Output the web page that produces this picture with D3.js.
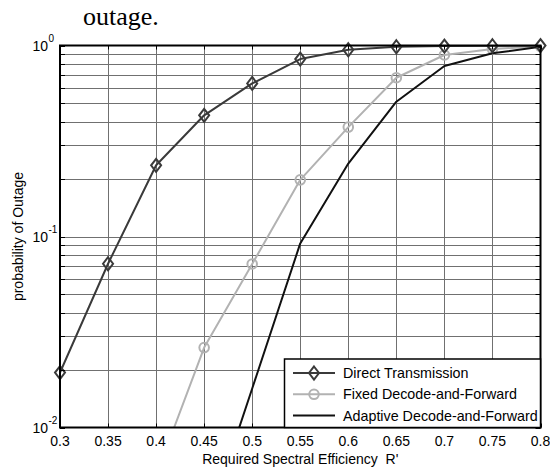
<!DOCTYPE html>
<html>
<head>
<meta charset="utf-8">
<script src="https://cdn.jsdelivr.net/npm/d3@7"></script>
<style>
  body { margin: 0; background: #fff; }
  svg { display: block; }
</style>
</head>
<body>
<script>
"use strict";

// chart values
var xTicks = [0.3, 0.35, 0.4, 0.45, 0.5, 0.55, 0.6, 0.65, 0.7, 0.75, 0.8];
var directX = [0.3, 0.35, 0.4, 0.45, 0.5, 0.55, 0.6, 0.65, 0.7, 0.75, 0.8];
var directY = [0.0194, 0.072, 0.236, 0.431, 0.633, 0.849, 0.95, 0.985, 0.993, 0.997, 0.999];
var fixedX = [0.4, 0.45, 0.5, 0.55, 0.6, 0.65, 0.7, 0.75, 0.8];
var fixedY = [0.0056, 0.0262, 0.0718, 0.198, 0.374, 0.678, 0.892, 0.958, 0.99];
var adaptX = [0.45, 0.5, 0.55, 0.6, 0.65, 0.7, 0.75, 0.8];
var adaptY = [0.0028, 0.016, 0.092, 0.241, 0.508, 0.781, 0.91, 0.985];
var yDecades = [0.01, 0.1, 1];
var yExponents = ["-2", "-1", "0"];
var legendNames = ["Direct Transmission", "Fixed Decode-and-Forward", "Adaptive Decode-and-Forward"];

var widthEcran = 550, heightEcran = 468;
var pLeft = 60, pRight = 540.5, pTop = 45.5, pBottom = 427.5;

var canvas = d3.select("body").append("svg")
    .attr("width", widthEcran)
    .attr("height", heightEcran);

var x = d3.scaleLinear().domain([0.3, 0.8]).range([pLeft, pRight]);
var y = d3.scaleLog().domain([0.01, 1]).range([pBottom, pTop]);

// clip for the curves
canvas.append("clipPath").attr("id", "plotClip")
    .append("rect")
    .attr("x", pLeft).attr("y", pTop)
    .attr("width", pRight - pLeft).attr("height", pBottom - pTop);

// text above the figure (from the page it was cut out of)
canvas.append("text")
    .attr("x", 83).attr("y", 25)
    .attr("font-family", "Liberation Serif, Times New Roman, serif")
    .attr("font-size", 26)
    .text("outage.");

// grid values: every minor step of the log axis
var minorVals = [];
[0.01, 0.1].forEach(function (d) {
    for (var k = 1; k <= 9; k++) minorVals.push(d * k);
});
minorVals.push(1);

var grid = canvas.append("g").attr("stroke", "#707070").attr("stroke-width", 1);
grid.selectAll(".hgrid").data(minorVals.filter(function (v) { return v > 0.0101 && v < 0.999; }))
    .enter().append("line")
    .attr("x1", pLeft).attr("x2", pRight)
    .attr("y1", function (d) { return Math.round(y(d)) + 0.5; })
    .attr("y2", function (d) { return Math.round(y(d)) + 0.5; });
grid.selectAll(".vgrid").data(xTicks.slice(1, -1))
    .enter().append("line")
    .attr("y1", pTop).attr("y2", pBottom)
    .attr("x1", function (d) { return Math.round(x(d)) + 0.5; })
    .attr("x2", function (d) { return Math.round(x(d)) + 0.5; });

// curves
var plot = canvas.append("g").attr("clip-path", "url(#plotClip)");

function drawCurve(xs, ys, color, width) {
    var pts = xs.map(function (d, i) { return [x(d), y(ys[i])]; });
    plot.append("path")
        .attr("d", d3.line()(pts))
        .attr("fill", "none")
        .attr("stroke", color)
        .attr("stroke-width", width)
        .attr("stroke-linejoin", "round");
    return pts;
}

function diamond(g, cx, cy, color) {
    g.append("path")
        .attr("d", "M" + cx + "," + (cy - 6.5) + "L" + (cx + 5) + "," + cy +
            "L" + cx + "," + (cy + 6.5) + "L" + (cx - 5) + "," + cy + "Z")
        .attr("fill", "none")
        .attr("stroke", color)
        .attr("stroke-width", 2);
}

function ring(g, cx, cy, color) {
    g.append("circle")
        .attr("cx", cx).attr("cy", cy).attr("r", 4.8)
        .attr("fill", "none")
        .attr("stroke", color)
        .attr("stroke-width", 2);
}

var colDirect = "#3a3a3a", colFixed = "#b2b2b2", colAdapt = "#111111";

var fixedPts = drawCurve(fixedX, fixedY, colFixed, 2);
fixedPts.forEach(function (p) { ring(plot, p[0], p[1], colFixed); });
drawCurve(adaptX, adaptY, colAdapt, 2);
var directPts = drawCurve(directX, directY, colDirect, 2);
directPts.forEach(function (p) { diamond(canvas, p[0], p[1], colDirect); });

// tick marks (inward, both sides)
var ticks = canvas.append("g").attr("stroke", "#000").attr("stroke-width", 1);
minorVals.forEach(function (v) {
    var yy = Math.round(y(v)) + 0.5;
    ticks.append("line").attr("x1", pLeft).attr("x2", pLeft + 5).attr("y1", yy).attr("y2", yy);
    ticks.append("line").attr("x1", pRight).attr("x2", pRight - 5).attr("y1", yy).attr("y2", yy);
});
xTicks.forEach(function (v) {
    var xx = Math.round(x(v)) + 0.5;
    ticks.append("line").attr("x1", xx).attr("x2", xx).attr("y1", pBottom).attr("y2", pBottom - 4);
    ticks.append("line").attr("x1", xx).attr("x2", xx).attr("y1", pTop).attr("y2", pTop + 4);
});

// axes box
canvas.append("rect")
    .attr("x", pLeft).attr("y", pTop)
    .attr("width", pRight - pLeft).attr("height", pBottom - pTop)
    .attr("fill", "none")
    .attr("stroke", "#000")
    .attr("stroke-width", 2);

var font = "Liberation Sans, Arial, Helvetica, sans-serif";

// x tick labels
canvas.append("g").selectAll("text").data(xTicks)
    .enter().append("text")
    .attr("x", function (d) { return x(d); })
    .attr("y", 446)
    .attr("text-anchor", "middle")
    .attr("font-family", font)
    .attr("font-size", 14)
    .text(function (d) { return String(d); });

// y tick labels 10^n
yDecades.forEach(function (v, i) {
    canvas.append("text")
        .attr("x", 48)
        .attr("y", y(v) + 5)
        .attr("text-anchor", "end")
        .attr("font-family", font)
        .attr("font-size", 14)
        .text("10");
    canvas.append("text")
        .attr("x", 48.5)
        .attr("y", y(v) - 4)
        .attr("font-family", font)
        .attr("font-size", 10)
        .text(yExponents[i]);
});

// axis titles
canvas.append("text")
    .attr("x", (pLeft + pRight) / 2)
    .attr("y", 464)
    .attr("text-anchor", "middle")
    .attr("font-family", font)
    .attr("font-size", 14)
    .attr("xml:space", "preserve")
    .text("Required Spectral Efficiency  R'");

canvas.append("text")
    .attr("transform", "translate(23," + ((pTop + pBottom) / 2) + ") rotate(-90)")
    .attr("text-anchor", "middle")
    .attr("font-family", font)
    .attr("font-size", 14)
    .text("probability of Outage");

// legend
var leg = canvas.append("g");
leg.append("rect")
    .attr("x", 284.5).attr("y", 359)
    .attr("width", pRight - 284.5).attr("height", pBottom - 359)
    .attr("fill", "#fff")
    .attr("stroke", "#000")
    .attr("stroke-width", 1.5);
var legCols = [colDirect, colFixed, colAdapt];
legendNames.forEach(function (name, i) {
    var ly = 373 + i * 21.3;
    leg.append("line")
        .attr("x1", 293).attr("x2", 335)
        .attr("y1", ly).attr("y2", ly)
        .attr("stroke", legCols[i])
        .attr("stroke-width", 2);
    if (i === 0) diamond(leg, 314, ly, legCols[i]);
    if (i === 1) ring(leg, 314, ly, legCols[i]);
    leg.append("text")
        .attr("x", 343)
        .attr("y", ly + 5)
        .attr("font-family", font)
        .attr("font-size", 14.3)
        .text(name);
});
</script>
</body>
</html>
